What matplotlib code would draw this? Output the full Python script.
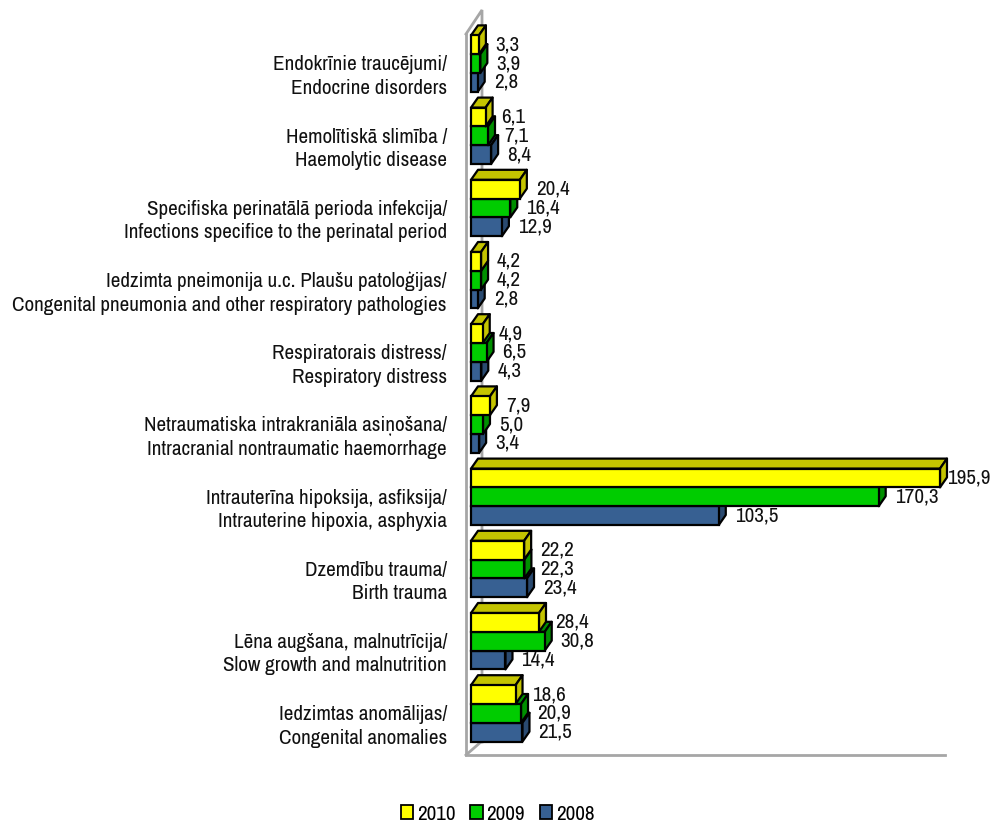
import matplotlib
matplotlib.use("Agg")
import matplotlib.pyplot as plt
from matplotlib.patches import Polygon, Rectangle
from matplotlib.transforms import Affine2D, ScaledTranslation
from matplotlib import font_manager as fm

names = {f.name for f in fm.fontManager.ttflist}
if "Archivo Narrow" in names:
    FONT, FS = "Archivo Narrow", 15.2
else:
    FONT, FS = "Liberation Sans", 12.8
plt.rcParams["font.family"] = [FONT, "Liberation Sans", "DejaVu Sans"]

categories = [
    "Endokrīnie traucējumi/\nEndocrine disorders",
    "Hemolītiskā slimība /\nHaemolytic disease",
    "Specifiska perinatālā perioda infekcija/\nInfections specifice to the perinatal period",
    "Iedzimta pneimonija u.c. Plaušu patoloģijas/\nCongenital pneumonia and other respiratory pathologies",
    "Respiratorais distress/\nRespiratory distress",
    "Netraumatiska intrakraniāla asiņošana/\nIntracranial nontraumatic haemorrhage",
    "Intrauterīna hipoksija, asfiksija/\nIntrauterine hipoxia, asphyxia",
    "Dzemdību trauma/\nBirth trauma",
    "Lēna augšana, malnutrīcija/\nSlow growth and malnutrition",
    "Iedzimtas anomālijas/\nCongenital anomalies",
]
v2010 = [3.3, 6.1, 20.4, 4.2, 4.9, 7.9, 195.9, 22.2, 28.4, 18.6]
v2009 = [3.9, 7.1, 16.4, 4.2, 6.5, 5.0, 170.3, 22.3, 30.8, 20.9]
v2008 = [2.8, 8.4, 12.9, 2.8, 4.3, 3.4, 103.5, 23.4, 14.4, 21.5]

series = [
    ("2010", v2010, "#FFFF00", "#C4C400", -1),
    ("2009", v2009, "#00CC00", "#008F00", 0),
    ("2008", v2008, "#376092", "#2A4A70", 1),
]

W, H = 994, 822
PX_PER_UNIT = 2.394
X0, TOP, BOT = 471, 27.5, 749.5
GROUP_PX = (BOT - TOP) / len(categories)
BAR = 18.8 / GROUP_PX
DX = 7 / PX_PER_UNIT
DY = 10 / GROUP_PX
LW = 1.6

fig = plt.figure(figsize=(W / 100, H / 100), dpi=100, facecolor="white")
ax = fig.add_axes([X0 / W, 1 - BOT / H, (W - X0) / W, (BOT - TOP) / H])
ax.set_xlim(0, (W - X0) / PX_PER_UNIT)
ax.set_ylim(len(categories) - 0.5, -0.5)
for s in ax.spines.values():
    s.set_visible(False)
ax.set_xticks([])
ax.patch.set_visible(False)

px = Affine2D().scale(1 / W, -1 / H).translate(0, 1) + fig.transFigure
wall = dict(color="#A6A6A6", lw=2, transform=px, clip_on=False, zorder=1, solid_joinstyle="miter")
ax.plot([466, 466, 945], [34, 755, 755], **wall)
ax.plot([466, 482, 482], [34, 10, 742], **wall)
ax.plot([466, 482], [755, 741], **wall)

z = 10
for i in range(len(categories) - 1, -1, -1):
    for name, vals, col, dark, k in reversed(series):
        v = vals[i]
        y = i + k * BAR
        top, bot = y - BAR / 2, y + BAR / 2
        style = dict(edgecolor="black", lw=LW, joinstyle="round", clip_on=False, zorder=z)
        ax.add_patch(Polygon([(0, top), (DX, top - DY), (v + DX, top - DY), (v, top)], facecolor=dark, **style))
        ax.add_patch(Polygon([(v, top), (v + DX, top - DY), (v + DX, bot - DY), (v, bot)], facecolor=dark, **style))
        ax.barh(y, v, height=BAR, color=col, edgecolor="black", lw=LW, clip_on=False, zorder=z + 1)
        z += 2

for name, vals, col, dark, k in series:
    for i, v in enumerate(vals):
        end_px = X0 + v * PX_PER_UNIT
        off = min(end_px + 16, 947) - end_px
        ax.annotate(f"{v:.1f}".replace(".", ","), (v, i + k * BAR), xytext=(off * 0.72, 1.5),
                    textcoords="offset points", ha="left", va="center_baseline", fontsize=FS,
                    color="#111111", zorder=1000, annotation_clip=False)

ax.set_yticks(range(len(categories)))
ax.set_yticklabels(categories, fontsize=FS, ha="right", va="center", linespacing=1.3, color="#111111")
ax.tick_params(axis="y", length=0, pad=17.3)
shift = ScaledTranslation(0, -13 / 100, fig.dpi_scale_trans)
for lab in ax.get_yticklabels():
    lab.set_transform(lab.get_transform() + shift)

handles = [Rectangle((0, 0), 1, 1, facecolor=c, edgecolor="black", lw=1.3) for _, _, c, _, _ in series]
fig.legend(handles, [s[0] for s in series], loc="center", bbox_to_anchor=(497.5 / W, 1 - 814 / H),
           ncol=3, frameon=False, fontsize=FS, handlelength=0.6, handleheight=0.6,
           handletextpad=0.17, columnspacing=0.7, borderpad=0)

fig.savefig("out.png", dpi=100)
